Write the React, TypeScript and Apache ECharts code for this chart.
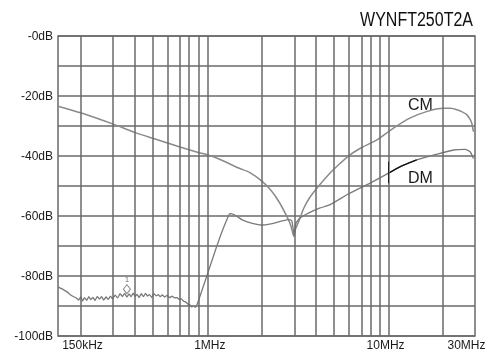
import React, { useEffect, useRef } from 'react';
import * as echarts from 'echarts';

const chartTitle = 'WYNFT250T2A';
const xTickFreqs = [0.15, 1, 10, 30];
const xTickLabels = ['150kHz', '1MHz', '10MHz', '30MHz'];
const yTickValues = [-100, -80, -60, -40, -20, 0];
const yTickLabels = ['-100dB', '-80dB', '-60dB', '-40dB', '-20dB', '-0dB'];
const gridFreqs = [0.2, 0.3, 0.4, 0.5, 0.6, 0.7, 0.8, 0.9, 1, 2, 3, 4, 5, 6, 7, 8, 9, 10, 20];

const cmFreq = [0.15, 0.2, 0.3, 0.4, 0.5, 0.7, 0.9, 1.0, 1.16, 1.5, 1.7, 2.0, 2.25, 2.5, 2.78, 2.9, 3.0, 3.06, 3.22, 3.4, 3.66, 4.16, 4.73, 5.4, 6.1, 7.2, 8.58, 10.6, 13.1, 16.2, 20.1, 22, 23.8, 25.5, 27.1, 28.2, 28.8, 29.4];
const cmDb = [-23.4, -25.6, -29.3, -32.2, -34.1, -36.9, -38.9, -39.6, -41, -44.1, -45.4, -48.4, -51.5, -55.5, -60.8, -63.5, -66.8, -64.5, -61.3, -57.5, -54, -49.7, -45.8, -42.5, -39.7, -37, -34.7, -30.8, -27.4, -25.2, -24.1, -24.1, -24.6, -25.3, -26.3, -27.8, -29.1, -31.9];

const dmFreq = [0.15, 0.158, 0.1675, 0.178, 0.19, 0.195, 0.2, 0.205, 0.21, 0.216, 0.222, 0.228, 0.234, 0.24, 0.247, 0.254, 0.261, 0.268, 0.276, 0.284, 0.292, 0.3, 0.31, 0.32, 0.33, 0.34, 0.35, 0.36, 0.37, 0.38, 0.39, 0.4, 0.41, 0.42, 0.432, 0.444, 0.456, 0.468, 0.48, 0.494, 0.508, 0.522, 0.536, 0.55, 0.565, 0.58, 0.6, 0.62, 0.64, 0.66, 0.68, 0.7, 0.72, 0.74, 0.76, 0.78, 0.8, 0.82, 0.84, 0.86, 0.88, 0.92, 1.0, 1.1, 1.2, 1.3, 1.33, 1.4, 1.56, 1.75, 1.98, 2.25, 2.5, 2.78, 2.92, 2.98, 3.02, 3.08, 3.22, 3.66, 4.16, 4.73, 6.1, 7.88, 9.95, 11.55, 14.3, 18.5, 22.8, 26.5, 28.2, 29.4];
const dmDb = [-83.6, -84.3, -85.2, -86.5, -87.4, -88.0, -87.0, -88.3, -87.2, -88.1, -86.9, -87.9, -87.1, -88.2, -86.8, -87.7, -86.9, -88.0, -87.0, -87.8, -86.7, -87.6, -86.4, -87.3, -85.9, -86.8, -85.8, -87.0, -86.0, -86.9, -85.7, -86.8, -86.1, -87.2, -85.9, -86.9, -85.8, -86.7, -86.2, -87.1, -85.9, -86.6, -86.2, -86.9, -86.3, -87.0, -86.5, -87.2, -86.7, -87.3, -87.2, -87.8, -87.6, -88.4, -88.7, -89.3, -89.6, -90.3, -90.0, -90.4, -89.3, -86, -79.5, -72, -65.5, -60.3, -59.2, -59.5, -61.3, -62.4, -63, -62.6, -61.9, -61.2, -61.5, -64.5, -66.5, -62.5, -60.8, -58.9, -57.4, -56.3, -52.4, -49.1, -45.8, -43.6, -41.3, -39.4, -38, -37.8, -38.6, -40.8];

const dmMarkFrom = 9.95;
const dmMarkTo = 14.3;
const markerFreq = [0.36];
const markerDb = [-84.4];
const markerText = ['1'];
const seriesLabels = ['CM', 'DM'];

const FONT = 'Liberation Sans, Arial, Helvetica, sans-serif';
const lg = (f: number) => Math.log10(f);

export default function App() {
  const ref = useRef<HTMLDivElement>(null);
  useEffect(() => {
    if (!ref.current) return;
    const chart = echarts.init(ref.current, undefined, { renderer: 'svg' });
    const cmData = cmFreq.map((f, i) => [lg(f), cmDb[i]]);
    const dmData = dmFreq.map((f, i) => [lg(f), dmDb[i]]);
    const dmBlack = dmFreq
      .map((f, i) => [f, dmDb[i]])
      .filter(([f]) => f >= dmMarkFrom && f <= dmMarkTo)
      .map(([f, v]) => [lg(f), v]);
    const pads: Record<string, number[]> = {
      s0: [0, 0, 0, 49],
      s1: [0, 0, 0, 5],
      s2: [0, 6, 0, 0],
      s3: [0, 17, 0, 0],
    };
    const rich: Record<string, any> = {};
    Object.keys(pads).forEach((k) => {
      rich[k] = { padding: pads[k], fontSize: 12, fontFamily: FONT, color: '#1a1a1a' };
    });
    const gridColor = '#6a6a6a';
    const gridWidth = 1.5;
    chart.setOption({
      animation: false,
      grid: { left: 58, right: 26, top: 36, bottom: 15, show: true, borderColor: gridColor, borderWidth: gridWidth, backgroundColor: 'transparent' },
      xAxis: {
        type: 'value',
        min: lg(0.15),
        max: lg(30),
        axisLine: { show: false },
        axisTick: { show: false },
        splitLine: { show: false },
        axisLabel: {
          customValues: xTickFreqs.map(lg),
          margin: 3,
          fontSize: 12,
          fontFamily: FONT,
          color: '#1a1a1a',
          formatter: (v: number) => {
            const i = xTickFreqs.findIndex((f) => Math.abs(lg(f) - v) < 1e-6);
            return i < 0 ? '' : `{s${i}|${xTickLabels[i]}}`;
          },
          rich,
        },
      },
      yAxis: {
        type: 'value',
        min: -100,
        max: 0,
        interval: 10,
        axisLine: { show: false },
        axisTick: { show: false },
        splitLine: { show: true, lineStyle: { color: gridColor, width: gridWidth } },
        axisLabel: {
          customValues: yTickValues,
          margin: 5,
          fontSize: 12,
          fontFamily: FONT,
          color: '#1a1a1a',
          formatter: (v: number) => {
            const i = yTickValues.indexOf(v);
            return i < 0 ? '' : yTickLabels[i];
          },
        },
      },
      graphic: [
        { type: 'text', x: 473, y: 9, scaleX: 0.8, style: { text: chartTitle, font: `20px ${FONT}`, fill: '#111', align: 'right', verticalAlign: 'top' } },
        { type: 'text', x: 408, y: 104, style: { text: seriesLabels[0], font: `16px ${FONT}`, fill: '#1a1a1a', align: 'left', verticalAlign: 'middle' } },
        { type: 'text', x: 408, y: 177.5, style: { text: seriesLabels[1], font: `16px ${FONT}`, fill: '#1a1a1a', align: 'left', verticalAlign: 'middle' } },
      ],
      series: [
        {
          type: 'line',
          name: 'grid',
          data: [],
          z: 1,
          silent: true,
          markLine: {
            silent: true,
            symbol: ['none', 'none'],
            label: { show: false },
            lineStyle: { color: gridColor, width: gridWidth, type: 'solid' },
            emphasis: { disabled: true },
            data: gridFreqs.map((f) => ({ xAxis: lg(f) })),
          },
        },
        {
          type: 'line',
          name: 'CM',
          data: cmData,
          showSymbol: false,
          smooth: 0.2,
          z: 3,
          lineStyle: { color: '#8a8a8a', width: 1.5 },
        },
        {
          type: 'line',
          name: 'DM',
          data: dmData,
          showSymbol: false,
          smooth: 0.15,
          z: 3,
          lineStyle: { color: '#7a7a7a', width: 1.3 },
        },
        {
          type: 'line',
          name: 'DM mark',
          data: dmBlack,
          showSymbol: false,
          smooth: 0.15,
          z: 4,
          lineStyle: { color: '#111', width: 1.3 },
          markLine: {
            silent: true,
            symbol: ['none', 'none'],
            label: { show: false },
            lineStyle: { color: '#222', width: 1, type: 'solid' },
            data: [[{ coord: [lg(dmMarkFrom), -41.9] }, { coord: [lg(dmMarkFrom), -49.1] }]],
          },
        },
        {
          type: 'scatter',
          name: 'marker',
          data: markerFreq.map((f, i) => [lg(f), markerDb[i]]),
          symbol: 'diamond',
          symbolSize: [7, 9],
          z: 5,
          itemStyle: { color: '#fff', borderColor: '#666', borderWidth: 1 },
          label: {
            show: true,
            position: 'top',
            distance: 1,
            formatter: (p: any) => markerText[p.dataIndex],
            fontSize: 8,
            fontFamily: FONT,
            color: '#555',
          },
        },
      ],
    });
    return () => chart.dispose();
  }, []);
  return <div ref={ref} style={{ position: 'fixed', left: 0, top: 0, width: 501, height: 351 }} />;
}
